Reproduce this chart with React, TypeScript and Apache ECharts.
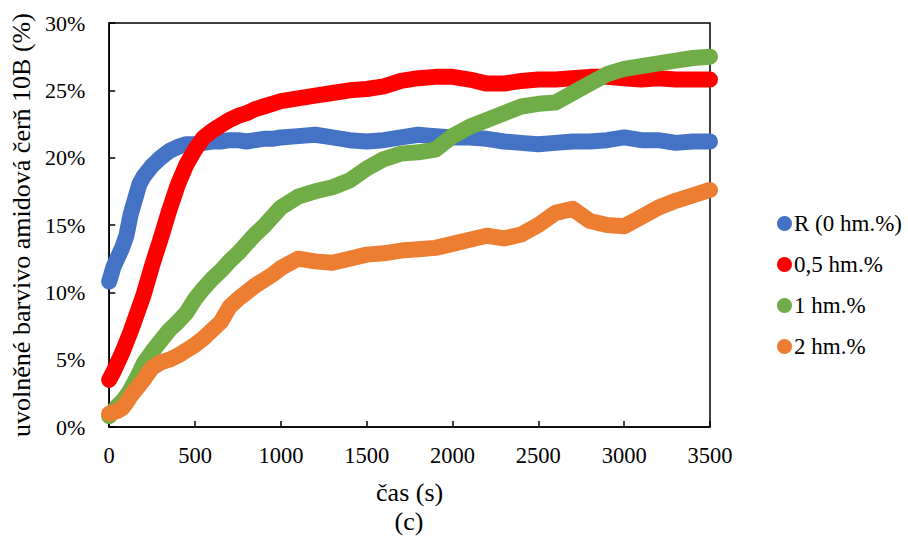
import React, { useEffect, useRef } from "react";
import * as echarts from "echarts";

const times = [0, 25, 50, 75, 100, 125, 150, 175, 200, 250, 300, 350, 400, 450, 500, 550, 600, 650, 700, 750, 800, 850, 900, 950, 1000, 1100, 1200, 1300, 1400, 1500, 1600, 1700, 1800, 1900, 2000, 2100, 2200, 2300, 2400, 2500, 2600, 2700, 2800, 2900, 3000, 3100, 3200, 3300, 3400, 3500];

const seriesNames = ["R (0 hm.%)", "0,5 hm.%", "1 hm.%", "2 hm.%"];
const seriesColors = ["#4472C4", "#FF0000", "#70AD47", "#ED7D31"];

const valuesR = [10.8, 11.9, 12.6, 13.3, 14.2, 15.8, 16.9, 18.0, 18.6,
  19.4, 20.0, 20.5, 20.8, 21.0, 21.0, 21.1, 21.2, 21.2, 21.3, 21.3, 21.2, 21.3, 21.4, 21.4, 21.5,
  21.6, 21.7, 21.5, 21.3, 21.2, 21.3, 21.5, 21.7, 21.6, 21.5, 21.5, 21.4, 21.2, 21.1, 21.0, 21.1, 21.2, 21.2, 21.3, 21.5, 21.3, 21.3, 21.1, 21.2, 21.2];
const values05 = [3.5, 4.1, 4.8, 5.5, 6.3, 7.1, 8.0, 8.9, 9.8,
  12.0, 14.0, 16.1, 18.0, 19.5, 20.6, 21.5, 22.0, 22.4, 22.8, 23.1, 23.3, 23.6, 23.8, 24.0, 24.2,
  24.4, 24.6, 24.8, 25.0, 25.1, 25.3, 25.7, 25.9, 26.0, 26.0, 25.8, 25.5, 25.5, 25.7, 25.8, 25.8, 25.9, 26.0, 26.0, 25.9, 25.8, 25.9, 25.8, 25.8, 25.8];
const values1 = [0.8, 1.2, 1.6, 1.9, 2.3, 2.8, 3.4, 4.0, 4.7,
  5.6, 6.4, 7.2, 7.8, 8.5, 9.5, 10.3, 11.0, 11.6, 12.3, 12.9, 13.6, 14.3, 14.9, 15.6, 16.3,
  17.1, 17.5, 17.8, 18.3, 19.2, 19.9, 20.3, 20.4, 20.6, 21.6, 22.3, 22.8, 23.3, 23.8, 24.0, 24.1, 24.8, 25.5, 26.2, 26.6, 26.8, 27.0, 27.2, 27.4, 27.5];
const values2 = [1.0, 1.1, 1.2, 1.4, 1.8, 2.3, 2.7, 3.1, 3.5,
  4.4, 4.8, 5.0, 5.3, 5.7, 6.1, 6.6, 7.2, 7.8, 8.9, 9.5, 10.0, 10.5, 10.9, 11.3, 11.8,
  12.5, 12.3, 12.2, 12.5, 12.8, 12.9, 13.1, 13.2, 13.3, 13.6, 13.9, 14.2, 14.0, 14.3, 15.0, 15.9, 16.2, 15.3, 15.0, 14.9, 15.6, 16.3, 16.8, 17.2, 17.6];

const allValues = [valuesR, values05, values1, values2];

const xTitle = "čas (s)";
const yTitle = "uvolněné barvivo amidová čerň 10B (%)";
const subTitle = "(c)";

const FONT = "'Liberation Serif', 'Times New Roman', serif";

export default function App() {
  const ref = useRef<HTMLDivElement>(null);

  useEffect(() => {
    document.body.style.margin = "0";
    if (!ref.current) return;
    const chart = echarts.init(ref.current, undefined, { renderer: "svg" });
    const series = allValues.map((vals, i) => ({
      name: seriesNames[i],
      type: "line",
      z: 2 + i,
      data: times.map((t, j) => [t, vals[j]]),
      symbol: "circle",
      symbolSize: 16,
      showSymbol: false,
      itemStyle: { color: seriesColors[i] },
      lineStyle: { color: seriesColors[i], width: 16, cap: "round", join: "round" },
      emphasis: { disabled: true },
    }));
    chart.setOption({
      animation: false,
      textStyle: { fontFamily: FONT, color: "#000" },
      grid: {
        left: 108,
        right: 198,
        top: 23,
        bottom: 111,
        show: true,
        borderColor: "#000",
        borderWidth: 1.5,
        backgroundColor: "transparent",
      },
      legend: {
        orient: "vertical",
        left: 772,
        top: 207,
        icon: "circle",
        itemWidth: 15,
        itemHeight: 15,
        itemGap: 18,
        data: seriesNames,
        textStyle: { fontFamily: FONT, fontSize: 23, color: "#000", padding: [0, 0, 0, -3] },
      },
      xAxis: {
        type: "value",
        min: 0,
        max: 3500,
        interval: 500,
        name: xTitle,
        nameLocation: "middle",
        nameGap: 52,
        nameTextStyle: { fontFamily: FONT, fontSize: 26, color: "#000" },
        axisLine: { show: true, lineStyle: { color: "#000", width: 1.5 } },
        axisTick: { show: true, inside: true, length: 6, lineStyle: { color: "#000", width: 1.5 } },
        splitLine: { show: false },
        axisLabel: { fontFamily: FONT, fontSize: 22.5, color: "#000", margin: 17, formatter: (v: number) => `${v}` },
      },
      yAxis: {
        type: "value",
        min: 0,
        max: 30,
        interval: 5,
        name: yTitle,
        nameLocation: "middle",
        nameGap: 72,
        nameTextStyle: { fontFamily: FONT, fontSize: 26, color: "#000" },
        axisLine: { show: true, lineStyle: { color: "#000", width: 1.5 } },
        axisTick: { show: true, inside: true, length: 6, lineStyle: { color: "#000", width: 1.5 } },
        splitLine: { show: false },
        axisLabel: { fontFamily: FONT, fontSize: 22, color: "#000", margin: 24, formatter: (v: number) => `${v}%` },
      },
      graphic: [
        {
          type: "text",
          x: 409,
          y: 521,
          style: { text: subTitle, font: `26px ${FONT}`, fill: "#000", textAlign: "center", textVerticalAlign: "middle" },
        },
      ],
      series,
    });
    return () => chart.dispose();
  }, []);

  return <div ref={ref} style={{ position: "absolute", left: 0, top: 0, width: 908, height: 538 }} />;
}
